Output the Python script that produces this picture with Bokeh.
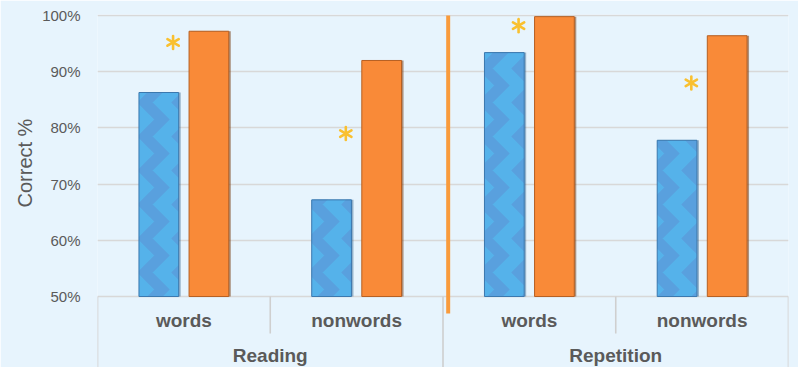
from bokeh.plotting import figure
from bokeh.models import Range1d, FixedTicker, ColumnDataSource, Title
from bokeh.core.properties import value
from bokeh.embed import file_html
from bokeh.resources import INLINE

# ---- data -------------------------------------------------------------
tasks = ["Reading", "Repetition"]
item_types = ["words", "nonwords", "words", "nonwords"]
series_blue = [86.3, 67.2, 93.4, 77.8]
series_orange = [97.2, 92.0, 99.8, 96.4]
star_levels = [95.2, 79.0, 98.2, 88.0]
y_ticks = [50, 60, 70, 80, 90, 100]
y_tick_labels = ["50%", "60%", "70%", "80%", "90%", "100%"]
y_title = "Correct %"

# ---- style ------------------------------------------------------------
BG = "#e7f4fd"
GRID = "#d8d8d8"
TEXT = "#5a5a5a"
BLUE = "#55b2ea"
BLUE_WAVE = "#5b95d6"
BLUE_EDGE = "#3b78ae"
ORANGE = "#f98a38"
ORANGE_EDGE = "#b65f22"
STAR = "#f9c030"
FONT = "Liberation Sans"

Y_MIN, Y_MAX = 37.37, 100.18
BAR_W = 0.23
OFFSET = 0.145
PX = 4.0 / 691.0                      # data units per pixel along x
PY = (Y_MAX - Y_MIN) / 353.0          # data units per pixel along y

centers = [i + 0.5 for i in range(len(item_types))]

p = figure(width=798, height=367, output_backend="svg", toolbar_location=None,
           x_range=Range1d(0, 4), y_range=Range1d(Y_MIN, Y_MAX),
           min_border_left=97, min_border_right=10, min_border_top=14,
           min_border_bottom=0)
p.background_fill_color = BG
p.border_fill_color = BG
p.outline_line_color = None

p.xaxis.visible = False
p.xgrid.visible = False

yax = p.yaxis[0]
yax.ticker = FixedTicker(ticks=y_ticks)
yax.major_label_overrides = dict(zip(y_ticks, y_tick_labels))
yax.axis_line_color = None
yax.major_tick_line_color = None
yax.minor_tick_line_color = None
yax.major_label_standoff = 11
yax.major_label_text_font = FONT
yax.major_label_text_font_size = "15px"
yax.major_label_text_color = TEXT

p.ygrid.ticker = FixedTicker(ticks=y_ticks)
p.ygrid.grid_line_color = GRID
p.ygrid.grid_line_width = 1.6

# axis title, lifted so it sits beside the value area
p.add_layout(Title(text=y_title, align="left", offset=160, standoff=7,
                   text_font=FONT, text_font_size="20px",
                   text_font_style="normal", text_color=TEXT), "left")

# ---- bars -------------------------------------------------------------
src = ColumnDataSource(dict(
    xb=[c - OFFSET for c in centers],
    xo=[c + OFFSET for c in centers],
    xbs=[c - OFFSET + 2 * PX for c in centers],
    xos=[c + OFFSET + 2 * PX for c in centers],
    blue=series_blue,
    orange=series_orange,
))

# soft drop shadows for the bevelled look
p.vbar(x="xbs", top="blue", bottom=50, width=BAR_W, source=src,
       fill_color="#2f5f8a", fill_alpha=0.45, line_color=None)
p.vbar(x="xos", top="orange", bottom=50, width=BAR_W, source=src,
       fill_color="#7a3f15", fill_alpha=0.55, line_color=None)

p.vbar(x="xb", top="blue", bottom=50, width=BAR_W, source=src,
       fill_color=BLUE, line_color=BLUE_EDGE, line_width=1,
       hatch_pattern="vertical_wave", hatch_color=BLUE_WAVE,
       hatch_scale=34, hatch_weight=11, hatch_alpha=0.6)
p.vbar(x="xo", top="orange", bottom=50, width=BAR_W, source=src,
       fill_color=ORANGE, line_color=ORANGE_EDGE, line_width=1)

# ---- significance asterisks (six spokes) -------------------------------
star_x = [c - OFFSET / 2 + 0.01 for c in centers]
sx, sy, sa = [], [], []
for x, y in zip(star_x, star_levels):
    for ang in (90, 30, -30, -90, -150, 150):
        sx.append(x)
        sy.append(y)
        sa.append(ang)
p.ray(x=sx, y=sy, angle=sa, angle_units="deg", length=6.5,
      length_units="screen", line_color=STAR, line_width=2.6, line_cap="round")

# ---- vertical accent line between the two tasks ------------------------
p.segment(x0=[2.03], y0=[100], x1=[2.03], y1=[47.0],
          line_color="#f99b3c", line_width=4)

# ---- category axis drawn as a box table --------------------------------
sub_bottom = 50 - 37 * PY
sep_x = [0, 1, 2, 3, 4]
sep_y1 = [Y_MIN, sub_bottom, Y_MIN, sub_bottom, Y_MIN]
p.segment(x0=sep_x, y0=[50] * 5, x1=sep_x, y1=sep_y1,
          line_color="#cfcfcf", line_width=1.6)

p.text(x=centers, y=[50 - 24 * PY] * 4, text=item_types,
       text_font=value(FONT), text_font_size="19px", text_font_style="bold",
       text_color=TEXT, text_align="center", text_baseline="middle")
p.text(x=[1, 3], y=[50 - 59 * PY] * 2, text=tasks,
       text_font=value(FONT), text_font_size="19px", text_font_style="bold",
       text_color=TEXT, text_align="center", text_baseline="middle")

open("out.html", "w").write(file_html(p, INLINE))
